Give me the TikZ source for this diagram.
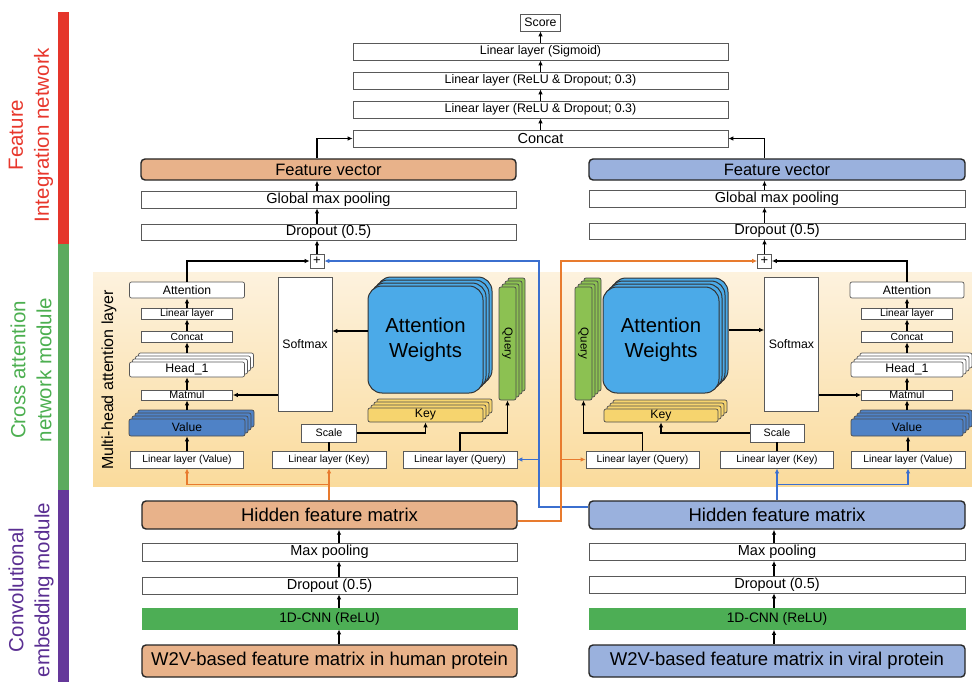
\documentclass[tikz,border=0pt]{standalone}
\usepackage{fontspec}
\setmainfont{Liberation Sans}
\usetikzlibrary{calc,arrows.meta}
\newcommand\myfs[2]{\fontsize{#1}{#2}\selectfont}
\definecolor{orgfill}{HTML}{E8B28A}
\definecolor{blufill}{HTML}{9AB1DD}
\definecolor{valblue}{HTML}{4F82C6}
\definecolor{awblue}{HTML}{4BAAE8}
\definecolor{keyyel}{HTML}{F6D46E}
\definecolor{qgreen}{HTML}{8CC152}
\definecolor{cnngreen}{HTML}{4DAE55}
\definecolor{lineor}{HTML}{E87B2E}
\definecolor{lineblu}{HTML}{3B6FCF}
\definecolor{paneltop}{HTML}{FDF2DE}
\definecolor{panelbot}{HTML}{FADB9C}
\definecolor{barred}{HTML}{E5352B}
\definecolor{bargreen}{HTML}{5BAA5E}
\definecolor{barpurple}{HTML}{65389A}
\definecolor{txtred}{HTML}{E8372C}
\definecolor{txtgreen}{HTML}{4CAF50}
\definecolor{txtpurple}{HTML}{5A2E92}
\tikzset{
  bx/.style={draw=black!65, fill=white, line width=0.7pt, inner sep=0pt, align=center},
  bigbx/.style={draw=black!85, line width=1.4pt, rounded corners=4pt, inner sep=0pt},
  cnnbx/.style={draw=cnngreen, fill=cnngreen, line width=0.7pt, inner sep=0pt},
  arr/.style={-{Latex[length=5pt,width=4.5pt]}, line width=1.2pt, draw=black},
  plainln/.style={line width=1.2pt, draw=black},
  oarr/.style={-{Latex[length=5pt,width=4.5pt]}, draw=lineor, line width=1.6pt},
  barr/.style={-{Latex[length=5pt,width=4.5pt]}, draw=lineblu, line width=1.6pt},
  sidelab/.style={rotate=90, align=center, font=\myfs{20.5}{26}},
}
% stack: name, cx, cy, w, h, style, text
\newcommand\stk[7]{%
  \foreach \k in {3,2,1}{\node[#6,minimum width=#4,minimum height=#5] at ({#2+3*\k},{#3-3*\k}) {};}
  \node[#6,minimum width=#4,minimum height=#5] (#1) at (#2,#3) {#7};
  \coordinate (#1top) at (#2,{#3-#5/2-9});
}
\begin{document}
\begin{tikzpicture}[x=1pt,y=-1pt]
\useasboundingbox (0,0) rectangle (972,682);
\fill[white] (0,0) rectangle (972,682);

% side bars and labels
\fill[barred] (58,12) rectangle (69,244);
\fill[bargreen] (58,244) rectangle (69,490);
\fill[barpurple] (58,490) rectangle (69,682);
\node[sidelab, text=txtred] (labfi) at (31,135) {Feature\\Integration network};
\node[sidelab, text=txtgreen] (labca) at (31,370) {Cross attention\\network module};
\node[sidelab, text=txtpurple] (labce) at (31,590) {Convolutional\\embedding module};

% panel
\shade[top color=paneltop, bottom color=panelbot] (93,272) rectangle (972,486);
\node[rotate=90, font=\myfs{16}{19}] (mhl) at (109,380) {Multi-head attention layer};

% top stack
\node[bx,minimum width=40,minimum height=17,font=\myfs{12.3}{14}] (score) at (540.5,22.5) {Score};
\node[bx,minimum width=375,minimum height=17,font=\myfs{12.4}{14}] (sig) at (540.5,51.5) {Linear layer (Sigmoid)};
\node[bx,minimum width=375,minimum height=17,font=\myfs{12.4}{14}] (relu2) at (540.5,80.5) {Linear layer (ReLU \& Dropout; 0.3)};
\node[bx,minimum width=375,minimum height=17,font=\myfs{12.4}{14}] (relu1) at (540.5,109.5) {Linear layer (ReLU \& Dropout; 0.3)};
\node[bx,minimum width=375,minimum height=17,font=\myfs{14.5}{16}] (concat) at (540.5,138.5) {Concat};
\draw[arr] (sig.north) -- (score.south);
\draw[arr] (relu2.north) -- (sig.south);
\draw[arr] (relu1.north) -- (relu2.south);
\draw[arr] (concat.north) -- (relu1.south);

% left feature column
\node[bigbx,fill=orgfill,minimum width=375,minimum height=21,font=\myfs{16.5}{18}] (fvl) at (328.5,169.5) {Feature vector};
\node[bx,minimum width=375,minimum height=17,font=\myfs{14.5}{16}] (gmpl) at (328.5,199.5) {Global max pooling};
\node[bx,minimum width=375,minimum height=16,font=\myfs{14.5}{16}] (dpl) at (328.5,232) {Dropout (0.5)};
\node[bx,minimum width=14,minimum height=14,font=\myfs{13}{13}] (pll) at (317,261) {+};
\draw[arr] (pll.north) -- (pll.north |- dpl.south);
\draw[arr] (pll.north |- dpl.north) -- (pll.north |- gmpl.south);
\draw[arr] (pll.north |- gmpl.north) -- (pll.north |- fvl.south);
\draw[arr] (pll.north |- fvl.north) |- (concat.west);

% right feature column
\node[bigbx,fill=blufill,minimum width=376,minimum height=21,font=\myfs{16.5}{18}] (fvr) at (777,169.5) {Feature vector};
\node[bx,minimum width=376,minimum height=17,font=\myfs{14.5}{16}] (gmpr) at (777,198.5) {Global max pooling};
\node[bx,minimum width=376,minimum height=16,font=\myfs{14.5}{16}] (dpr) at (777,231) {Dropout (0.5)};
\node[bx,minimum width=14,minimum height=14,font=\myfs{13}{13}] (plr) at (764.5,261) {+};
\draw[arr] (plr.north) -- (plr.north |- dpr.south);
\draw[arr] (plr.north |- dpr.north) -- (plr.north |- gmpr.south);
\draw[arr] (plr.north |- gmpr.north) -- (plr.north |- fvr.south);
\draw[arr] (plr.north |- fvr.north) |- (concat.east);

% ===== left attention panel =====
\node[bx,rounded corners=2pt,minimum width=115,minimum height=16,font=\myfs{12.2}{14}] (attl) at (187,290) {Attention};
\node[bx,minimum width=91,minimum height=11,font=\myfs{10.3}{12}] (linl) at (187,313.5) {Linear layer};
\node[bx,minimum width=91,minimum height=11,font=\myfs{10.3}{12}] (concl) at (187,336.5) {Concat};
\stk{headl}{187}{369.5}{115}{15}{bx,rounded corners=2pt,font=\myfs{12.3}{14}}{Head\_1}
\node[bx,minimum width=91,minimum height=10,font=\myfs{10.7}{12}] (matl) at (187,395) {Matmul};
\stk{vall}{187}{427.5}{116}{17}{bx,fill=valblue,draw=black!70,rounded corners=2pt,font=\myfs{12.1}{14}}{Value}
\node[bx,minimum width=113,minimum height=17,font=\myfs{10.3}{12}] (linvall) at (187,459.5) {Linear layer (Value)};
\node[bx,minimum width=54,minimum height=134,font=\myfs{12.3}{14}] (sml) at (305,344) {Softmax};
\node[bx,minimum width=55,minimum height=18,font=\myfs{10.7}{12}] (scl) at (329,433) {Scale};
\node[bx,minimum width=114,minimum height=17,font=\myfs{10.3}{12}] (linkl) at (329,459.5) {Linear layer (Key)};
\stk{awl}{425.5}{339.5}{115}{107}{bx,fill=awblue,draw=black!80,line width=1pt,rounded corners=14pt,font=\myfs{20.3}{25}}{Attention\\Weights}
\stk{keyl}{425.5}{415}{115}{14}{bx,fill=keyyel,draw=black!70,rounded corners=2pt,font=\myfs{12.2}{14}}{Key}
\stk{qryl}{507.5}{343.5}{17}{113}{bx,fill=qgreen,draw=black!70,rounded corners=2pt}{}
\node[rotate=-90,font=\myfs{11.5}{13}] (qlabl) at (qryl) {Query};
\node[bx,minimum width=114,minimum height=17,font=\myfs{10.3}{12}] (linql) at (460,459.5) {Linear layer (Query)};

\draw[arr] (linvall.north) -- (vall.south);
\draw[arr] (valltop) -- (matl.south);
\draw[arr] (matl.north) -- (headl.south);
\draw[arr] (headltop) -- (concl.south);
\draw[arr] (concl.north) -- (linl.south);
\draw[arr] (linl.north) -- (attl.south);
\draw[arr] (attl.north) |- (pll.west);
\draw[arr] (sml.west |- matl.east) -- (matl.east);
\draw[arr] ([yshift=8.5pt]awl.west) -- ([yshift=8.5pt]awl.west -| sml.east);
\draw[plainln] (linkl.north) -- (scl.south);
\draw[arr] (scl.east) -| (keyl.south);
\draw[arr] (linql.north) |- (scl.east -| qryl.south) -- (qryl.south);

% ===== right attention panel =====
\stk{qryr}{583.5}{343.5}{17}{113}{bx,fill=qgreen,draw=black!70,rounded corners=2pt}{}
\node[rotate=-90,font=\myfs{11.5}{13}] (qlabr) at (qryr) {Query};
\stk{awr}{661}{340}{116}{106}{bx,fill=awblue,draw=black!80,line width=1pt,rounded corners=14pt,font=\myfs{20.3}{25}}{Attention\\Weights}
\stk{keyr}{661}{415.5}{114}{13}{bx,fill=keyyel,draw=black!70,rounded corners=2pt,font=\myfs{12.2}{14}}{Key}
\node[bx,minimum width=54,minimum height=134,font=\myfs{12.3}{14}] (smr) at (791.5,344) {Softmax};
\node[bx,rounded corners=2pt,minimum width=114,minimum height=16,font=\myfs{12.2}{14}] (attr) at (907,290) {Attention};
\node[bx,minimum width=91,minimum height=11,font=\myfs{10.3}{12}] (linr) at (907,313.5) {Linear layer};
\node[bx,minimum width=91,minimum height=11,font=\myfs{10.3}{12}] (concr) at (907,336.5) {Concat};
\stk{headr}{907}{369.5}{112}{15}{bx,rounded corners=2pt,font=\myfs{12.3}{14}}{Head\_1}
\node[bx,minimum width=91,minimum height=10,font=\myfs{10.7}{12}] (matr) at (907,395) {Matmul};
\stk{valr}{907}{427.5}{112}{17}{bx,fill=valblue,draw=black!70,rounded corners=2pt,font=\myfs{12.1}{14}}{Value}
\node[bx,minimum width=114,minimum height=17,font=\myfs{10.3}{12}] (linvalr) at (908,459.5) {Linear layer (Value)};
\node[bx,minimum width=54,minimum height=18,font=\myfs{10.7}{12}] (scr) at (777,433) {Scale};
\node[bx,minimum width=113,minimum height=17,font=\myfs{10.3}{12}] (linkr) at (777,459.5) {Linear layer (Key)};
\node[bx,minimum width=113,minimum height=17,font=\myfs{10.3}{12}] (linqr) at (642.5,459.5) {Linear layer (Query)};

\draw[arr] (linvalr.north) -- (linvalr.north |- valr.south);
\draw[arr] (valrtop) -- (matr.south);
\draw[arr] (matr.north) -- (headr.south);
\draw[arr] (headrtop) -- (concr.south);
\draw[arr] (concr.north) -- (linr.south);
\draw[arr] (linr.north) -- (attr.south);
\draw[arr] (attr.north) |- (plr.east);
\draw[arr] (smr.east |- matr.west) -- (matr.west);
\draw[arr] ([xshift=9pt,yshift=10pt]awr.east) -- ([yshift=10pt]awr.east -| smr.west);
\draw[plainln] (linkr.north) -- (scr.south);
\draw[arr] (scr.west) -| (keyr.south);
\draw[arr] (linqr.north) |- (scr.west -| qryr.south) -- (qryr.south);

% ===== bottom left =====
\node[bigbx,fill=orgfill,minimum width=375,minimum height=28,font=\myfs{18.5}{20}] (hfml) at (329.5,515) {Hidden feature matrix};
\node[bx,minimum width=375,minimum height=18,font=\myfs{14.5}{16}] (mpl) at (329.5,552) {Max pooling};
\node[bx,minimum width=375,minimum height=17,font=\myfs{14.5}{16}] (dbl) at (329.5,585.5) {Dropout (0.5)};
\node[cnnbx,minimum width=375,minimum height=21,font=\myfs{13.8}{16}] (cnnl) at (329.5,618.5) {1D-CNN (ReLU)};
\node[bigbx,fill=orgfill,minimum width=375,minimum height=32,font=\myfs{18.5}{20}] (w2vl) at (329.5,661) {W2V-based feature matrix in human protein};
\draw[arr] ([xshift=9.5pt]w2vl.north) -- ([xshift=9.5pt]cnnl.south);
\draw[arr] ([xshift=9.5pt]cnnl.north) -- ([xshift=9.5pt]dbl.south);
\draw[arr] ([xshift=9.5pt]dbl.north) -- ([xshift=9.5pt]mpl.south);
\draw[arr] ([xshift=9.5pt]mpl.north) -- ([xshift=9.5pt]hfml.south);

% ===== bottom right =====
\node[bigbx,fill=blufill,minimum width=376,minimum height=28,font=\myfs{18.5}{20}] (hfmr) at (777,515) {Hidden feature matrix};
\node[bx,minimum width=376,minimum height=17,font=\myfs{14.5}{16}] (mpr) at (777,552) {Max pooling};
\node[bx,minimum width=376,minimum height=17,font=\myfs{14.5}{16}] (dbr) at (777,584.5) {Dropout (0.5)};
\node[cnnbx,minimum width=376,minimum height=21,font=\myfs{13.8}{16}] (cnnr) at (777,619) {1D-CNN (ReLU)};
\node[bigbx,fill=blufill,minimum width=376,minimum height=32,font=\myfs{18.5}{20}] (w2vr) at (777,661) {W2V-based feature matrix in viral protein};
\draw[arr] ([xshift=-3pt]w2vr.north) -- ([xshift=-3pt]cnnr.south);
\draw[arr] ([xshift=-3pt]cnnr.north) -- ([xshift=-3pt]dbr.south);
\draw[arr] ([xshift=-3pt]dbr.north) -- ([xshift=-3pt]mpr.south);
\draw[arr] ([xshift=-3pt]mpr.north) -- ([xshift=-3pt]hfmr.south);

% ===== cross connections =====
\coordinate (ocol) at (561,460);
\coordinate (bcol) at (539,460);
\draw[oarr] (hfml.north -| linkl.south) -- (linkl.south);
\draw[oarr] ($(hfml.north -| linkl.south)!.5!(linkl.south)$) -| (linvall.south);
\draw[barr] (hfmr.north) -- (linkr.south);
\draw[barr] ($(hfmr.north)!.5!(linkr.south)$) -| (linvalr.south);
\draw[barr] ([yshift=8pt]hfmr.west) -| (bcol |- pll.east) -- (pll.east);
\draw[barr] (bcol |- linql.east) -- (linql.east);
\draw[oarr] ([yshift=-6pt]hfml.east) -| (ocol |- plr.west) -- (plr.west);
\draw[oarr] (ocol |- linqr.west) -- (linqr.west);
\end{tikzpicture}
\end{document}
